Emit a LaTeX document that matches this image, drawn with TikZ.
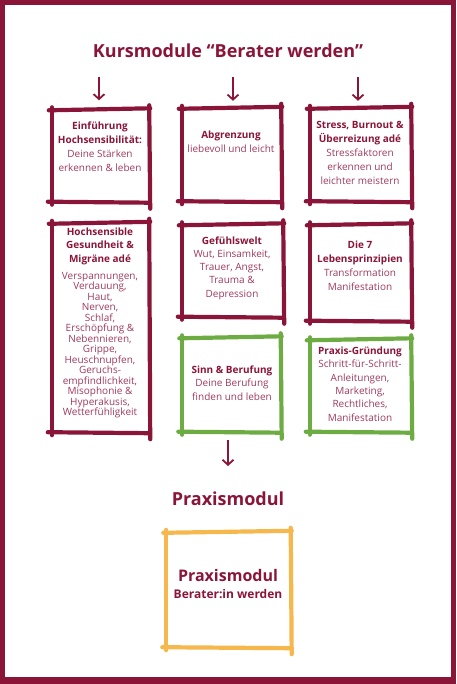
\documentclass[tikz,border=0pt]{standalone}
\usepackage{fontspec}
\setmainfont{Open Sans}
\usetikzlibrary{arrows.meta,positioning}

% bold dark header line inside a module box
\newcommand{\hd}[1]{{\bfseries\color{KursRed}#1}}
% hand-drawn frame round an (empty) frame node
\newcommand{\brushframe}[2]{%
  \draw[brush,#2] ([xshift=-3pt,yshift=-1pt]#1.north west) -- ([xshift=2pt,yshift=1pt]#1.north east);
  \draw[brush,#2] ([yshift=2pt]#1.north west) -- ([yshift=-2pt]#1.south west);
  \draw[brush,#2] ([xshift=-4pt,yshift=1pt]#1.south west) -- ([xshift=1pt]#1.south east);
  \draw[brush,#2] ([xshift=1pt,yshift=4pt]#1.north east) -- ([xshift=2pt,yshift=-6pt]#1.south east);
}

\begin{document}
\begin{tikzpicture}[x=1pt,y=-1pt,
  brush/.style={line width=4.2pt, line cap=round},
  modframe/.style={inner sep=0pt, minimum width=97pt, minimum height=94pt},
  modtext/.style={align=center, inner sep=0pt, text=BodyRed, font=\fontsize{10}{14}\selectfont},
  arr/.style={KursRed, line width=1.8pt, -{Straight Barb[length=5pt,width=11pt]}},
  headline/.style={KursRed, inner sep=0pt, font=\fontsize{18}{22}\selectfont\bfseries}]
\definecolor{KursRed}{HTML}{8A1538};
\definecolor{BodyRed}{HTML}{9E3A5C};
\definecolor{SinnGreen}{HTML}{6CAC43};
\definecolor{PraxOrange}{HTML}{F6B84C};

\useasboundingbox (0,0) rectangle (456,684);

% outer frame
\draw[KursRed, line width=5pt] (0,2.5) -- (456,2.5);
\draw[KursRed, line width=5pt] (2.5,0) -- (2.5,684);
\draw[KursRed, line width=5pt] (453.5,0) -- (453.5,684);
\draw[KursRed, line width=7pt] (0,680.5) -- (456,680.5);

% title
\node[headline] (title) at (228,51) {Kursmodule “Berater werden”};

% module frames
\node[modframe, minimum width=96pt, minimum height=93pt] (m1) at (100,156) {};
\node[modframe, minimum width=98pt] (m2) at (231,155) {};
\node[modframe, minimum width=100pt] (m3) at (360,155) {};
\node[modframe, minimum width=96pt, minimum height=210pt] (m4) at (100,328) {};
\node[modframe, minimum width=100pt, minimum height=93pt] (m5) at (232,271) {};
\node[modframe, minimum width=100pt, minimum height=97pt] (m6) at (360,273) {};
\node[modframe, minimum width=97pt, minimum height=95pt] (m7) at (231,385) {};
\node[modframe, minimum width=100pt, minimum height=93pt] (m8) at (360,386) {};
\node[modframe, minimum width=123pt, minimum height=116pt] (mp) at (228,590) {};

\foreach \m in {m1,m2,m3,m4,m5,m6}
  \brushframe{\m}{KursRed};
\foreach \m in {m7,m8}
  \brushframe{\m}{SinnGreen};
\brushframe{mp}{PraxOrange};

% module texts
\node[modtext] (t1) at (100,147) {\hd{Einführung}\\ \hd{Hochsensibilität:}\\ Deine Stärken\\ erkennen \& leben};
\node[modtext] (t2) at (231,142) {\hd{Abgrenzung}\\ liebevoll und leicht};
\node[modtext] (t3) at (360,153) {\hd{Stress, Burnout \&}\\ \hd{Überreizung adé}\\ Stressfaktoren\\ erkennen und\\ leichter meistern};
\node[modtext, font=\fontsize{10}{13.5}\selectfont] (t4) at (100,246) {\hd{Hochsensible}\\ \hd{Gesundheit \&}\\ \hd{Migräne adé}};
\node[modtext, font=\fontsize{10}{10.5}\selectfont, below=7pt of t4] (t4b) {Verspannungen,\\ Verdauung,\\ Haut,\\ Nerven,\\ Schlaf,\\ Erschöpfung \&\\ Nebennieren,\\ Grippe,\\ Heuschnupfen,\\ Geruchs-\\ empfindlichkeit,\\ Misophonie \&\\ Hyperakusis,\\ Wetterfühligkeit};
\node[modtext, font=\fontsize{10}{13.3}\selectfont] (t5) at (232,268) {\hd{Gefühlswelt}\\ Wut, Einsamkeit,\\ Trauer, Angst,\\ Trauma \&\\ Depression};
\node[modtext] (t6) at (360,266) {\hd{Die 7}\\ \hd{Lebensprinzipien}\\ Transformation\\ Manifestation};
\node[modtext, font=\fontsize{10}{13.5}\selectfont] (t7) at (232,383) {\hd{Sinn \& Berufung}\\ Deine Berufung\\ finden und leben};
\node[modtext, font=\fontsize{10}{13.4}\selectfont] (t8) at (360,384) {\hd{Praxis-Gründung}\\ Schritt-für-Schritt-\\ Anleitungen,\\ Marketing,\\ Rechtliches,\\ Manifestation};

% arrows
\coordinate (a1) at (99,77);
\coordinate (a2) at (233,77);
\coordinate (a3) at (358,77);
\draw[arr, shorten >=9pt] (a1) -- (a1 |- m1.north);
\draw[arr, shorten >=7pt] (a2) -- (a2 |- m2.north);
\draw[arr, shorten >=7pt] (a3) -- (a3 |- m3.north);

\coordinate (b1) at (228,440);
\coordinate (b2) at (228,466);
\draw[arr] (b1) -- (b2);

% practice module
\node[headline] (prax) at (228,499) {Praxismodul};
\node[KursRed, inner sep=0pt, font=\fontsize{16}{18}\selectfont\bfseries] (tp1) at (228,575) {Praxismodul};
\node[KursRed, inner sep=0pt, font=\fontsize{12}{14}\selectfont\bfseries] (tp2) at (228,594) {Berater:in werden};
\end{tikzpicture}
\end{document}
